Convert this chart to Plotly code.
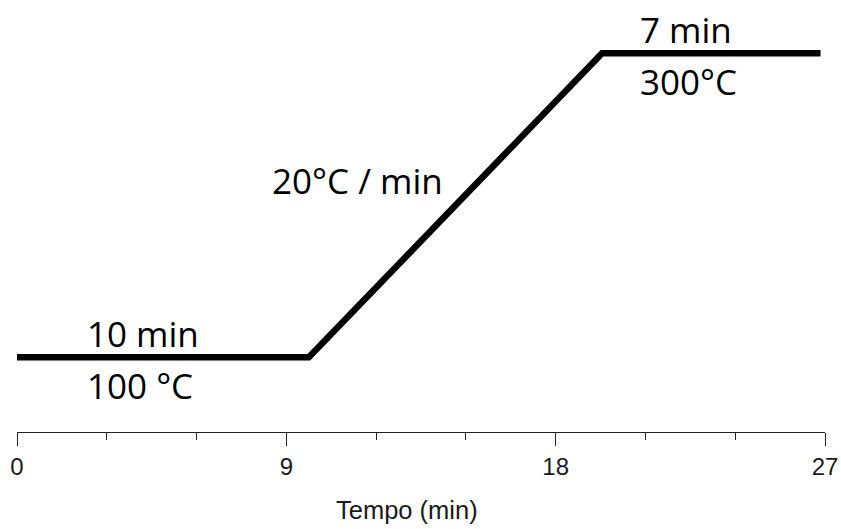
import plotly.graph_objects as go

# Temperature program
time_min = [0, 9.75, 19.55, 26.85]
temp_c = [100, 100, 300, 300]

tick_vals = [0, 9, 18, 27]
tick_text = ["0", "9", "18", "27"]
x_title = "Tempo (min)"

labels = ["10 min", "100 °C", "20°C / min", "7 min", "300°C"]
label_x = [4.20, 4.11, 11.39, 22.35, 22.45]
label_y = [115.4, 81.8, 216.4, 315.4, 281.3]

fig = go.Figure()
fig.add_trace(go.Scatter(x=time_min, y=temp_c, mode="lines",
                         line=dict(color="black", width=6.5),
                         hoverinfo="skip", showlegend=False))

for t, x, y in zip(labels, label_x, label_y):
    fig.add_annotation(x=x, y=y, text=t, showarrow=False,
                       xanchor="center", yanchor="middle",
                       font=dict(family="Open Sans, sans-serif", size=35, color="black"))

# axis title (placed as paper annotation to match its offset)
fig.add_annotation(x=0.4827, y=-0.181, xref="paper", yref="paper", text=x_title,
                   showarrow=False, xanchor="center", yanchor="middle",
                   font=dict(family="Liberation Sans, Arial, sans-serif", size=25.5, color="#1a1a1a"))

fig.update_layout(
    width=841, height=529,
    margin=dict(l=17, r=16, t=0, b=97),
    paper_bgcolor="white", plot_bgcolor="white",
    xaxis=dict(range=[0, 27], tickvals=tick_vals, ticktext=tick_text,
               showgrid=False, zeroline=False, showline=True,
               linecolor="#222", linewidth=1.2,
               ticks="outside", ticklen=13, tickwidth=1.2, tickcolor="#222",
               minor=dict(dtick=3, ticks="outside", ticklen=7, tickwidth=1.2, tickcolor="#222", showgrid=False),
               tickfont=dict(family="Liberation Sans, Arial, sans-serif", size=24, color="#1a1a1a")),
    yaxis=dict(range=[50.9, 335.1], visible=False, showgrid=False, zeroline=False),
)

fig.write_html("out.html", config={"displayModeBar": False},
               post_script="document.body.style.margin='0';document.body.style.overflow='hidden';")
